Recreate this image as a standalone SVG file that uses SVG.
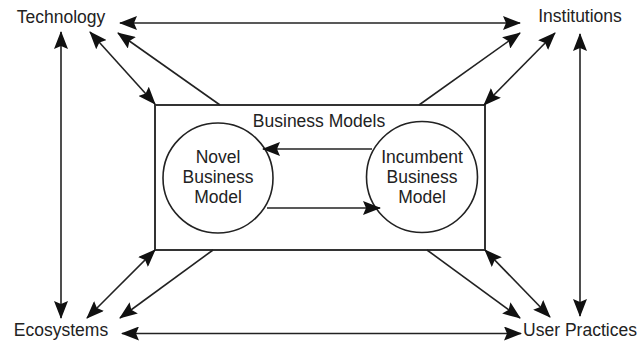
<svg xmlns="http://www.w3.org/2000/svg" width="640" height="342" viewBox="0 0 640 342">
<style>
text{font-family:"Liberation Sans",Arial,sans-serif;font-size:17.5px;fill:#222;text-anchor:middle}
.ln{stroke:#222;stroke-width:1.6;fill:none}
.box{stroke:#333;stroke-width:2;fill:#fff}
.c{stroke:#222;stroke-width:1.6;fill:#fff}
</style>
<defs>
<marker id="ah" markerUnits="userSpaceOnUse" markerWidth="18" markerHeight="14" viewBox="0 0 18 14" refX="17" refY="7" orient="auto-start-reverse">
<path d="M0,0 L18,7 L0,14 L3,7 z" fill="#111"/>
</marker>
</defs>
<g id="business-models">
<rect class="box" x="155" y="105" width="330" height="145"/>
<text x="319" y="127">Business Models</text>
</g>
<g id="novel">
<circle class="c" cx="218" cy="178" r="55"/>
<text x="218" y="163">Novel</text>
<text x="218" y="183">Business</text>
<text x="218" y="203">Model</text>
</g>
<g id="incumbent">
<circle class="c" cx="422" cy="177" r="55.5"/>
<text x="422" y="163">Incumbent</text>
<text x="422" y="183">Business</text>
<text x="422" y="203">Model</text>
</g>
<g id="technology"><text x="61" y="23">Technology</text></g>
<g id="institutions"><text x="580" y="22">Institutions</text></g>
<g id="ecosystems"><text x="61" y="336">Ecosystems</text></g>
<g id="user-practices"><text x="580" y="336">User Practices</text></g>
<g id="connectors">
<line class="ln" x1="372" y1="149" x2="263" y2="149" marker-end="url(#ah)"/>
<line class="ln" x1="267" y1="208" x2="380" y2="208" marker-end="url(#ah)"/>
<line class="ln" x1="120" y1="23" x2="520" y2="23" marker-start="url(#ah)" marker-end="url(#ah)"/>
<line class="ln" x1="122" y1="333.5" x2="521" y2="333.5" marker-start="url(#ah)" marker-end="url(#ah)"/>
<line class="ln" x1="61" y1="32" x2="61" y2="318" marker-start="url(#ah)" marker-end="url(#ah)"/>
<line class="ln" x1="580" y1="34" x2="580" y2="316" marker-start="url(#ah)" marker-end="url(#ah)"/>
<line class="ln" x1="90" y1="32" x2="155" y2="104" marker-start="url(#ah)" marker-end="url(#ah)"/>
<line class="ln" x1="220" y1="105" x2="118" y2="33" marker-end="url(#ah)"/>
<line class="ln" x1="419" y1="105" x2="520" y2="33" marker-end="url(#ah)"/>
<line class="ln" x1="484" y1="105" x2="555" y2="33" marker-start="url(#ah)" marker-end="url(#ah)"/>
<line class="ln" x1="155" y1="250" x2="87" y2="318" marker-start="url(#ah)" marker-end="url(#ah)"/>
<line class="ln" x1="213" y1="250" x2="120" y2="318" marker-end="url(#ah)"/>
<line class="ln" x1="427" y1="250" x2="520" y2="318" marker-end="url(#ah)"/>
<line class="ln" x1="485" y1="250" x2="550" y2="317" marker-start="url(#ah)" marker-end="url(#ah)"/>
</g>
</svg>
